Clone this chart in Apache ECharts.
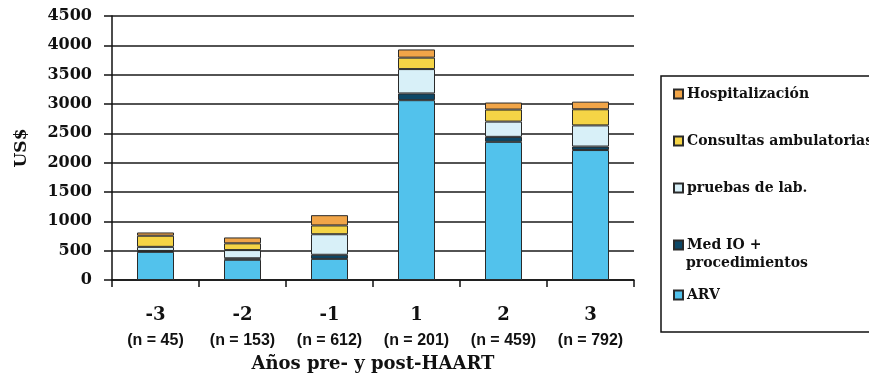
<!DOCTYPE html>
<html>
<head>
<meta charset="utf-8">
<script src="https://cdn.jsdelivr.net/npm/echarts@6/dist/echarts.min.js"></script>
<style>
  html, body { margin: 0; padding: 0; background: #fff; }
  #chart { width: 869px; height: 383px; }
</style>
</head>
<body>
<div id="chart"></div>
<script>
// Years relative to the start of HAART, with the cohort size of each year
const categories = ['-3', '-2', '-1', '1', '2', '3'];
const sampleSizes = ['(n = 45)', '(n = 153)', '(n = 612)', '(n = 201)', '(n = 459)', '(n = 792)'];

// Annual cost per patient (US$) by component, stacked bottom to top
const arv = [480, 345, 360, 3065, 2355, 2215];
const medIO = [15, 25, 70, 115, 85, 60];
const labTests = [70, 140, 350, 415, 260, 360];
const outpatient = [190, 115, 150, 195, 205, 275];
const hospital = [55, 100, 175, 140, 120, 130];

const yTicks = { min: 0, max: 4500, step: 500 };

const serifBold = { fontFamily: 'DejaVu Serif', fontWeight: 'bold', color: '#111' };

const seriesDefs = [
  { name: 'ARV', data: arv, color: '#52c2ec' },
  { name: 'Med IO +', data: medIO, color: '#0d4766' },
  { name: 'pruebas de lab.', data: labTests, color: '#d8f0f8' },
  { name: 'Consultas ambulatorias', data: outpatient, color: '#f5d446' },
  { name: 'Hospitalización', data: hospital, color: '#f1a548' }
];

// One legend block per entry so each line sits at its own height
const legendRows = [
  { name: 'Hospitalización', top: 82 },
  { name: 'Consultas ambulatorias', top: 129 },
  { name: 'pruebas de lab.', top: 176 },
  { name: 'Med IO +', top: 233 },
  { name: 'ARV', top: 283 }
];

const chart = echarts.init(document.getElementById('chart'), null, { renderer: 'canvas' });

chart.setOption({
  animation: false,
  backgroundColor: '#fff',
  grid: { left: 112, right: 235, top: 16, bottom: 103, containLabel: false },
  xAxis: {
    type: 'category',
    data: categories,
    name: 'Años pre- y post-HAART',
    nameLocation: 'middle',
    nameGap: 75,
    nameTextStyle: Object.assign({ fontSize: 18 }, serifBold),
    axisLine: { lineStyle: { color: '#111', width: 1.5 } },
    axisTick: { show: true, length: 7, interval: 0, alignWithLabel: false, lineStyle: { color: '#111', width: 1.5 } },
    axisLabel: {
      interval: 0,
      margin: 22,
      formatter: function (v, i) { return '{a|' + v + '}\n{b|' + sampleSizes[i] + '}'; },
      rich: {
        a: Object.assign({ fontSize: 18, lineHeight: 26 }, serifBold),
        b: { fontFamily: 'Liberation Sans', fontWeight: 'bold', fontSize: 16, lineHeight: 26, color: '#111' }
      }
    }
  },
  yAxis: {
    type: 'value',
    min: yTicks.min,
    max: yTicks.max,
    interval: yTicks.step,
    name: 'US$',
    nameLocation: 'middle',
    nameGap: 82,
    nameRotate: 90,
    nameTextStyle: Object.assign({ fontSize: 17 }, serifBold),
    axisLine: { show: true, lineStyle: { color: '#111', width: 1.5 } },
    axisTick: { show: true, length: 8, lineStyle: { color: '#111', width: 1.5 } },
    axisLabel: Object.assign({ fontSize: 16, margin: 20, formatter: function (v) { return String(v); } }, serifBold),
    splitLine: { show: true, lineStyle: { color: '#1a1a1a', width: 1.5 } }
  },
  legend: legendRows.map(function (row) {
    return {
      data: [row.name],
      left: 668,
      top: row.top,
      orient: 'vertical',
      icon: 'rect',
      itemWidth: 9,
      itemHeight: 9,
      itemGap: 4,
      selectedMode: false,
      textStyle: Object.assign({ fontSize: 14, padding: [0, 0, 0, -1] }, serifBold)
    };
  }),
  graphic: [
    {
      type: 'rect',
      shape: { x: 661, y: 76, width: 230, height: 256 },
      style: { fill: 'none', stroke: '#111', lineWidth: 1.5 },
      silent: true
    },
    {
      type: 'text',
      left: 686,
      top: 256,
      style: { text: 'procedimientos', fontSize: 14, fill: '#111', fontFamily: 'DejaVu Serif', fontWeight: 'bold' },
      silent: true
    }
  ],
  series: seriesDefs.map(function (s) {
    return {
      name: s.name,
      type: 'bar',
      stack: 'cost',
      data: s.data,
      barWidth: 37,
      itemStyle: { color: s.color, borderColor: '#2a2a2a', borderWidth: 1 },
      emphasis: { disabled: true }
    };
  })
});
</script>
</body>
</html>
